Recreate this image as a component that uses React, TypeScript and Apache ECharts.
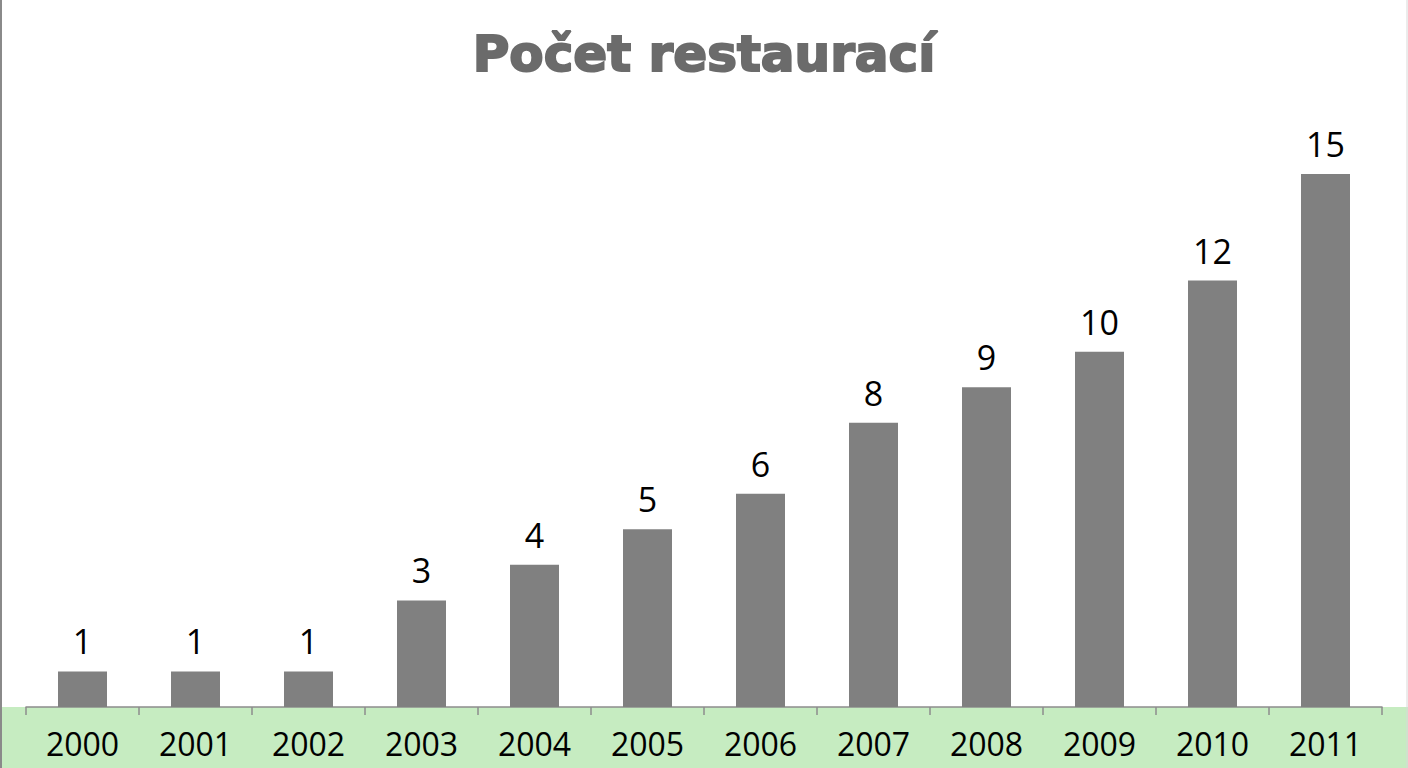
import React, { useEffect, useRef } from "react";
import * as echarts from "echarts";

const titleText = "Počet restaurací";
const years = ["2000", "2001", "2002", "2003", "2004", "2005", "2006", "2007", "2008", "2009", "2010", "2011"];
const restaurants = [1, 1, 1, 3, 4, 5, 6, 8, 9, 10, 12, 15];

export default function App() {
  const ref = useRef<HTMLDivElement>(null);
  useEffect(() => {
    if (!ref.current) return;
    const chart = echarts.init(ref.current, null, { renderer: "svg" });
    chart.setOption({
      animation: false,
      backgroundColor: "#ffffff",
      title: {
        text: titleText,
        left: "center",
        top: 24,
        textStyle: {
          fontFamily: "DejaVu Sans, sans-serif",
          fontWeight: "bold",
          fontSize: 50,
          color: "#6b6b6b",
          textBorderColor: "#6b6b6b",
          textBorderWidth: 2,
        },
      },
      graphic: [
        {
          type: "rect",
          z: -10,
          silent: true,
          shape: { x: 0, y: 707, width: 1408, height: 61 },
          style: { fill: "#c6ecc1" },
        },
        {
          type: "line",
          z: 10,
          silent: true,
          shape: { x1: 1, y1: 0, x2: 1, y2: 768 },
          style: { stroke: "#8a8a8a", lineWidth: 2 },
        },
        {
          type: "line",
          z: 10,
          silent: true,
          shape: { x1: 1407, y1: 0, x2: 1407, y2: 768 },
          style: { stroke: "#d8d8d8", lineWidth: 1 },
        },
      ],
      grid: { left: 26, right: 26, top: 174, bottom: 61, containLabel: false },
      xAxis: {
        type: "category",
        data: years,
        axisLine: { show: true, lineStyle: { color: "#8c8c8c", width: 1.5 } },
        axisTick: { show: true, length: 8, alignWithLabel: false, lineStyle: { color: "#8c8c8c", width: 1.5 } },
        axisLabel: {
          fontFamily: "Open Sans, sans-serif",
          fontSize: 32,
          color: "#000000",
          margin: 20,
        },
      },
      yAxis: {
        type: "value",
        min: 0,
        max: 15,
        show: false,
        splitLine: { show: false },
      },
      series: [
        {
          type: "bar",
          data: restaurants,
          barWidth: 49,
          itemStyle: { color: "#808080" },
          label: {
            show: true,
            position: "top",
            distance: 13,
            fontFamily: "Open Sans, sans-serif",
            fontSize: 34,
            color: "#000000",
          },
        },
      ],
    });
    return () => chart.dispose();
  }, []);
  return (
    <div
      ref={ref}
      style={{ position: "fixed", left: 0, top: 0, width: 1408, height: 768 }}
    />
  );
}
